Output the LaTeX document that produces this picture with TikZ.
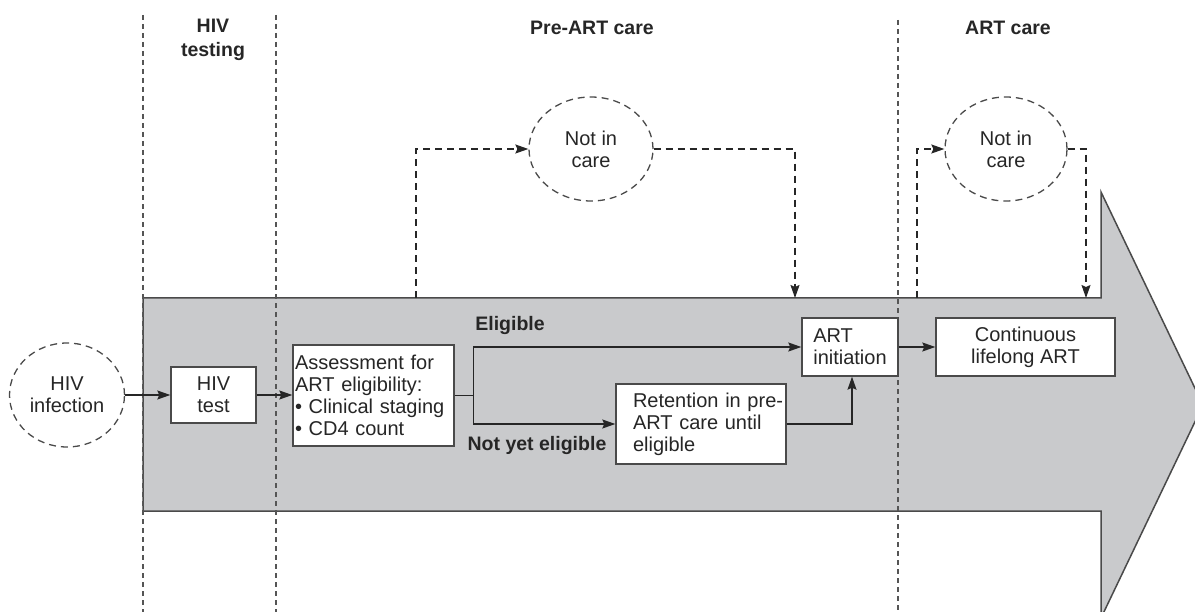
\documentclass[tikz,border=0pt]{standalone}
\usepackage{fontspec}
\setmainfont{Liberation Sans}
\usetikzlibrary{shapes.geometric,arrows.meta,calc}
\definecolor{arrowfill}{HTML}{C9CACC}
\definecolor{edgec}{HTML}{4A4A4A}
\definecolor{txtc}{HTML}{262626}
\definecolor{phasec}{HTML}{555555}
\newcommand\bodyfnt{\fontsize{20bp}{22bp}\selectfont}
\newcommand\hdrfnt{\fontsize{19.5bp}{24bp}\selectfont\bfseries}
\tikzset{
  box/.style={draw=edgec, line width=1.4bp, fill=white, text=txtc, font=\bodyfnt, inner sep=0pt, align=center},
  outcirc/.style={ellipse, draw=edgec, line width=1.3bp, dash pattern=on 7bp off 5bp, text=txtc, font=\bodyfnt, inner sep=0pt, align=center},
  conn/.style={draw=txtc, line width=1.3bp, -{Stealth[length=13bp,width=9bp,inset=2bp]}},
  dconn/.style={conn, dash pattern=on 7bp off 5bp},
  phaseline/.style={draw=phasec, line width=1.1bp, dash pattern=on 5bp off 4bp},
  hdr/.style={font=\hdrfnt, text=txtc, align=center, inner sep=0pt},
  lbl/.style={font=\hdrfnt, text=txtc, inner sep=0pt},
  bigarrow/.style={fill=arrowfill, draw=edgec, line width=1.5bp}
}
\begin{document}
\begin{tikzpicture}[x=1bp,y=-1bp]
\useasboundingbox (0,0) rectangle (1195,612);
% big arrow
\draw[bigarrow] (143,298) -- (1101,298) -- (1101,192) -- (1203,405) -- (1101,618) -- (1101,511) -- (143,511) -- cycle;
% phase separators
\draw[phaseline] (143,15) -- (143,612);
\draw[phaseline] (276,15) -- (276,612);
\draw[phaseline] (898,20) -- (898,612);
% headers
\node[hdr] (h1) at (213,40) {HIV\\testing};
\node[hdr] (h2) at (592,28) {Pre-ART care};
\node[hdr] (h3) at (1008,28) {ART care};
% nodes
\node[outcirc, fill=white, minimum width=115bp, minimum height=104bp] (inf) at (67,395) {HIV\\infection};
\node[box, minimum width=85bp, minimum height=56bp] (test) at (213.5,395) {HIV\\test};
\node[box, text width=157bp, inner xsep=2bp, minimum height=101bp, align=left] (assess) at (373.5,395.5)
  {Assessment for\\ART eligibility:\\\mbox{• Clinical staging}\\• CD4 count};
\node[box, text width=136bp, inner xsep=17bp, minimum height=80bp, align=left] (ret) at (701,424)
  {\mbox{Retention in pre-}\\\mbox{ART care until}\\eligible};
\node[box, minimum width=96bp, minimum height=58bp, align=left] (init) at (850,347) {ART\\initiation};
\node[box, minimum width=179bp, minimum height=58bp] (cont) at (1025.5,347) {Continuous\\lifelong ART};
\node[outcirc, minimum width=124bp, minimum height=104bp] (nic1) at (591,149) {Not in\\care};
\node[outcirc, minimum width=122bp, minimum height=104bp] (nic2) at (1006,149) {Not in\\care};
% labels
\node[lbl] (elig) at (510,326) {Eligible};
\node[lbl] (nye) at (537,446) {Not yet eligible};
% connectors
\draw[conn] (inf.east) -- (test.west);
\draw[conn] (test.east) -- (test.east -| assess.west);
\coordinate (br) at ($(assess.east)+(19,0)$);
\draw[line width=1.3bp, draw=txtc] (assess.east) -- (br);
\draw[conn] (br) |- (init.west);
\draw[conn] (br) |- (ret.west);
\draw[conn] (ret.east) -| ($(init.south)+(2,0)$);
\draw[conn] (init.east) -- (cont.west);
% dashed loss-to-care connectors
\coordinate (d1s) at (416,298);
\coordinate (d1e) at (795,298);
\coordinate (d2s) at (917,298);
\coordinate (d2e) at (1086,298);
\draw[dconn] (d1s) |- (nic1.west);
\draw[dconn] (nic1.east) -| (d1e);
\draw[dconn] (d2s) |- (nic2.west);
\draw[dconn] (nic2.east) -| (d2e);
\end{tikzpicture}
\end{document}
